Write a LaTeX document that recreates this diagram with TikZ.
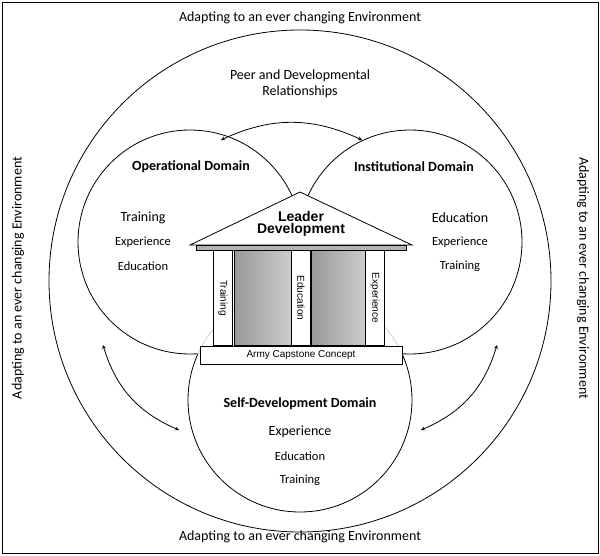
\documentclass[tikz,border=0pt]{standalone}
\usepackage{fontspec}
\setmainfont{Carlito}
\newfontfamily\arialf{Liberation Sans}
\begin{document}
\begin{tikzpicture}[x=1pt,y=-1pt,
  lbl/.style={font=\fontsize{14}{16}\selectfont},
  dom/.style={font=\bfseries\fontsize{14}{16}\selectfont},
  sm/.style={font=\fontsize{12.5}{14}\selectfont},
  ar/.style={<->,>=stealth,thick},
  col/.style={draw,thick,fill=white}]
\useasboundingbox (0,0) rectangle (600,555);
\draw[thick] (2,2) rectangle (598,553);
\draw[thick] (300,281) circle (251);
\coordinate (co) at (190,242);
\coordinate (ci) at (410,242);
\coordinate (cs) at (300,400);
\def\R{112}
\draw[thick] (co) circle (\R) (ci) circle (\R) (cs) circle (\R);
\begin{scope}
 \clip (ci) circle (\R);
 \draw[white,line width=1.6pt] (co) circle (\R) (cs) circle (\R);
 \draw[gray!50] (co) circle (\R) (cs) circle (\R);
\end{scope}
\begin{scope}
 \clip (co) circle (\R);
 \draw[white,line width=1.6pt] (ci) circle (\R) (cs) circle (\R);
 \draw[gray!50] (ci) circle (\R) (cs) circle (\R);
\end{scope}
\begin{scope}
 \clip (cs) circle (\R);
 \draw[white,line width=1.6pt] (co) circle (\R) (ci) circle (\R);
 \draw[gray!50] (co) circle (\R) (ci) circle (\R);
\end{scope}
% temple
\fill[white] (236,250) rectangle (364,345);
\shade[left color=gray!80,right color=gray!40] (234,250) rectangle (291,345);
\shade[left color=gray!80,right color=gray!40] (311,250) rectangle (365,345);
\draw (234,250) rectangle (291,345) (311,250) rectangle (365,345);
\draw[thick,fill=white] (190,245) -- (300,192) -- (412,245) -- cycle;
\draw[thick,fill=gray!60] (196,245) rectangle (406,250);
\node[col,minimum width=19pt,minimum height=95pt,anchor=north] (c1) at (223,250) {};
\node[col,minimum width=19pt,minimum height=95pt,anchor=north] (c2) at (301,250) {};
\node[col,minimum width=19pt,minimum height=95pt,anchor=north] (c3) at (375,250) {};
\node[rotate=-90,font=\arialf\fontsize{10}{12}\selectfont] at (c1) {Training};
\node[rotate=-90,font=\arialf\fontsize{10}{12}\selectfont] at (c2) {Education};
\node[rotate=-90,font=\arialf\fontsize{10}{12}\selectfont] at (c3) {Experience};
\node[draw,thick,fill=white,minimum width=202pt,minimum height=18pt,font=\arialf\fontsize{10}{12}\selectfont] (base) at (301,355) {Army Capstone Concept};
\node[align=center,font=\arialf\bfseries\fontsize{14}{14}\selectfont] (ld) at (301,224) {Leader\\[-2pt]Development};
% outer labels
\node[lbl] (t) at (300,18) {Adapting to an ever changing Environment};
\node[lbl] (b) at (300,537) {Adapting to an ever changing Environment};
\node[lbl,rotate=90] (l) at (18,278) {Adapting to an ever changing Environment};
\node[lbl,rotate=-90] (r) at (583,278) {Adapting to an ever changing Environment};
\node[lbl,align=center] (peer) at (300,84) {Peer and Developmental\\Relationships};
\node[dom] (od) at (191,167) {Operational Domain};
\node[dom] (id) at (414,167) {Institutional Domain};
\node[dom] (sd) at (300,404) {Self-Development Domain};
\node[lbl] at (143,218) {Training};
\node[sm] at (143,242) {Experience};
\node[sm] at (143,266) {Education};
\node[lbl] at (460,218) {Education};
\node[sm] at (460,242) {Experience};
\node[sm] at (460,266) {Training};
\node[lbl] at (300,432) {Experience};
\node[sm] at (300,456) {Education};
\node[sm] at (300,480) {Training};
\coordinate (a1) at (221,140); \coordinate (a2) at (362,140);
\draw[ar] (a1) to[bend left=25] (a2);
\coordinate (a3) at (103,345); \coordinate (a4) at (179,430);
\draw[ar] (a3) to[bend right=25] (a4);
\coordinate (a5) at (497,345); \coordinate (a6) at (421,430);
\draw[ar] (a5) to[bend left=25] (a6);
\end{tikzpicture}
\end{document}
